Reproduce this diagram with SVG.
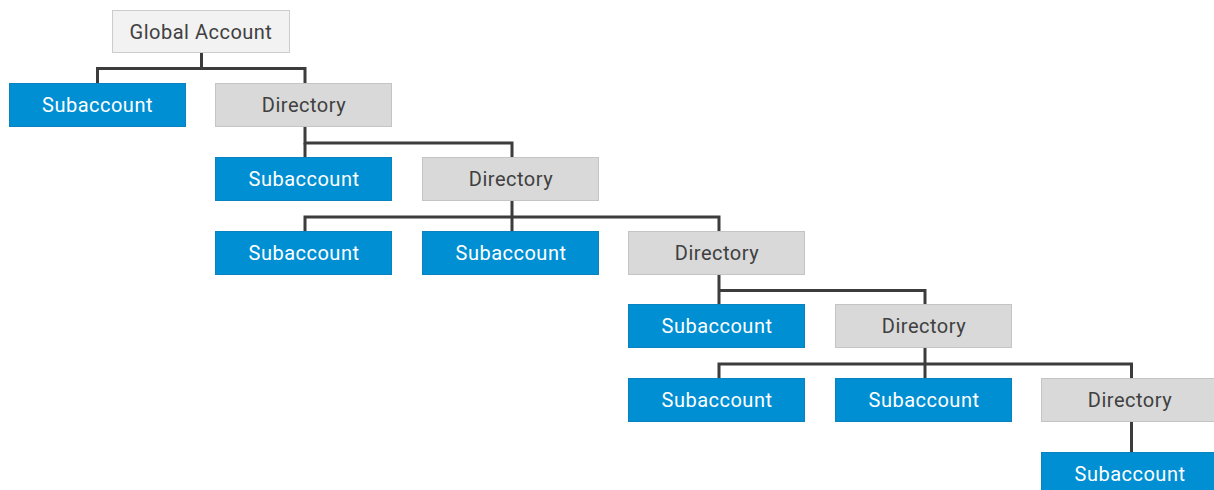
<svg xmlns="http://www.w3.org/2000/svg" width="1214" height="490" viewBox="0 0 1214 490">
<style>
.sub rect{fill:#008fd3;stroke:#0a82c0;stroke-width:1}
.dir rect{fill:#d9d9d9;stroke:#c4c4c4;stroke-width:1}
.glob rect{fill:#f2f2f2;stroke:#cccccc;stroke-width:1}
text{font-family:Roboto,"Liberation Sans",sans-serif;font-size:20px;letter-spacing:0.5px;text-anchor:middle;dominant-baseline:central}
.sub text{fill:#ffffff}
.dir text,.glob text{fill:#404040}
.conn path{fill:none;stroke:#3c3c3c;stroke-width:3}
</style>
<rect width="1214" height="490" fill="#ffffff"/>
<g class="conn">
<path d="M201.5 53V68.5M97.5 83V68.5H305V83"/>
<path d="M305 127V143H512V157"/>
<path d="M305 157V143"/>
<path d="M512 201V217M305 231V217H719V231M512 217V231"/>
<path d="M719 275V290.5H925V304M719 290.5V304"/>
<path d="M925 348V364M719 378V364H1131.5V378M925 364V378"/>
<path d="M1131.5 422V452"/>
</g>
<g id="global" class="glob"><rect x="112.5" y="10.5" width="177" height="42"/><text x="201" y="31.5">Global Account</text></g>
<g id="sub1" class="sub"><rect x="9.5" y="83.5" width="176" height="43"/><text x="97.5" y="105">Subaccount</text></g>
<g id="dir1" class="dir"><rect x="215.5" y="83.5" width="176" height="43"/><text x="304" y="105">Directory</text></g>
<g id="sub2" class="sub"><rect x="215.5" y="157.5" width="176" height="43"/><text x="304" y="179">Subaccount</text></g>
<g id="dir2" class="dir"><rect x="422.5" y="157.5" width="176" height="43"/><text x="511" y="179">Directory</text></g>
<g id="sub3" class="sub"><rect x="215.5" y="231.5" width="176" height="43"/><text x="304" y="253">Subaccount</text></g>
<g id="sub4" class="sub"><rect x="422.5" y="231.5" width="176" height="43"/><text x="511" y="253">Subaccount</text></g>
<g id="dir3" class="dir"><rect x="628.5" y="231.5" width="176" height="43"/><text x="717" y="253">Directory</text></g>
<g id="sub5" class="sub"><rect x="628.5" y="304.5" width="176" height="43"/><text x="717" y="326">Subaccount</text></g>
<g id="dir4" class="dir"><rect x="835.5" y="304.5" width="176" height="43"/><text x="924" y="326">Directory</text></g>
<g id="sub6" class="sub"><rect x="628.5" y="378.5" width="176" height="43"/><text x="717" y="400">Subaccount</text></g>
<g id="sub7" class="sub"><rect x="835.5" y="378.5" width="176" height="43"/><text x="924" y="400">Subaccount</text></g>
<g id="dir5" class="dir"><rect x="1041.5" y="378.5" width="176" height="43"/><text x="1130" y="400">Directory</text></g>
<g id="sub8" class="sub"><rect x="1041.5" y="452.5" width="176" height="43"/><text x="1130" y="474">Subaccount</text></g>
</svg>
